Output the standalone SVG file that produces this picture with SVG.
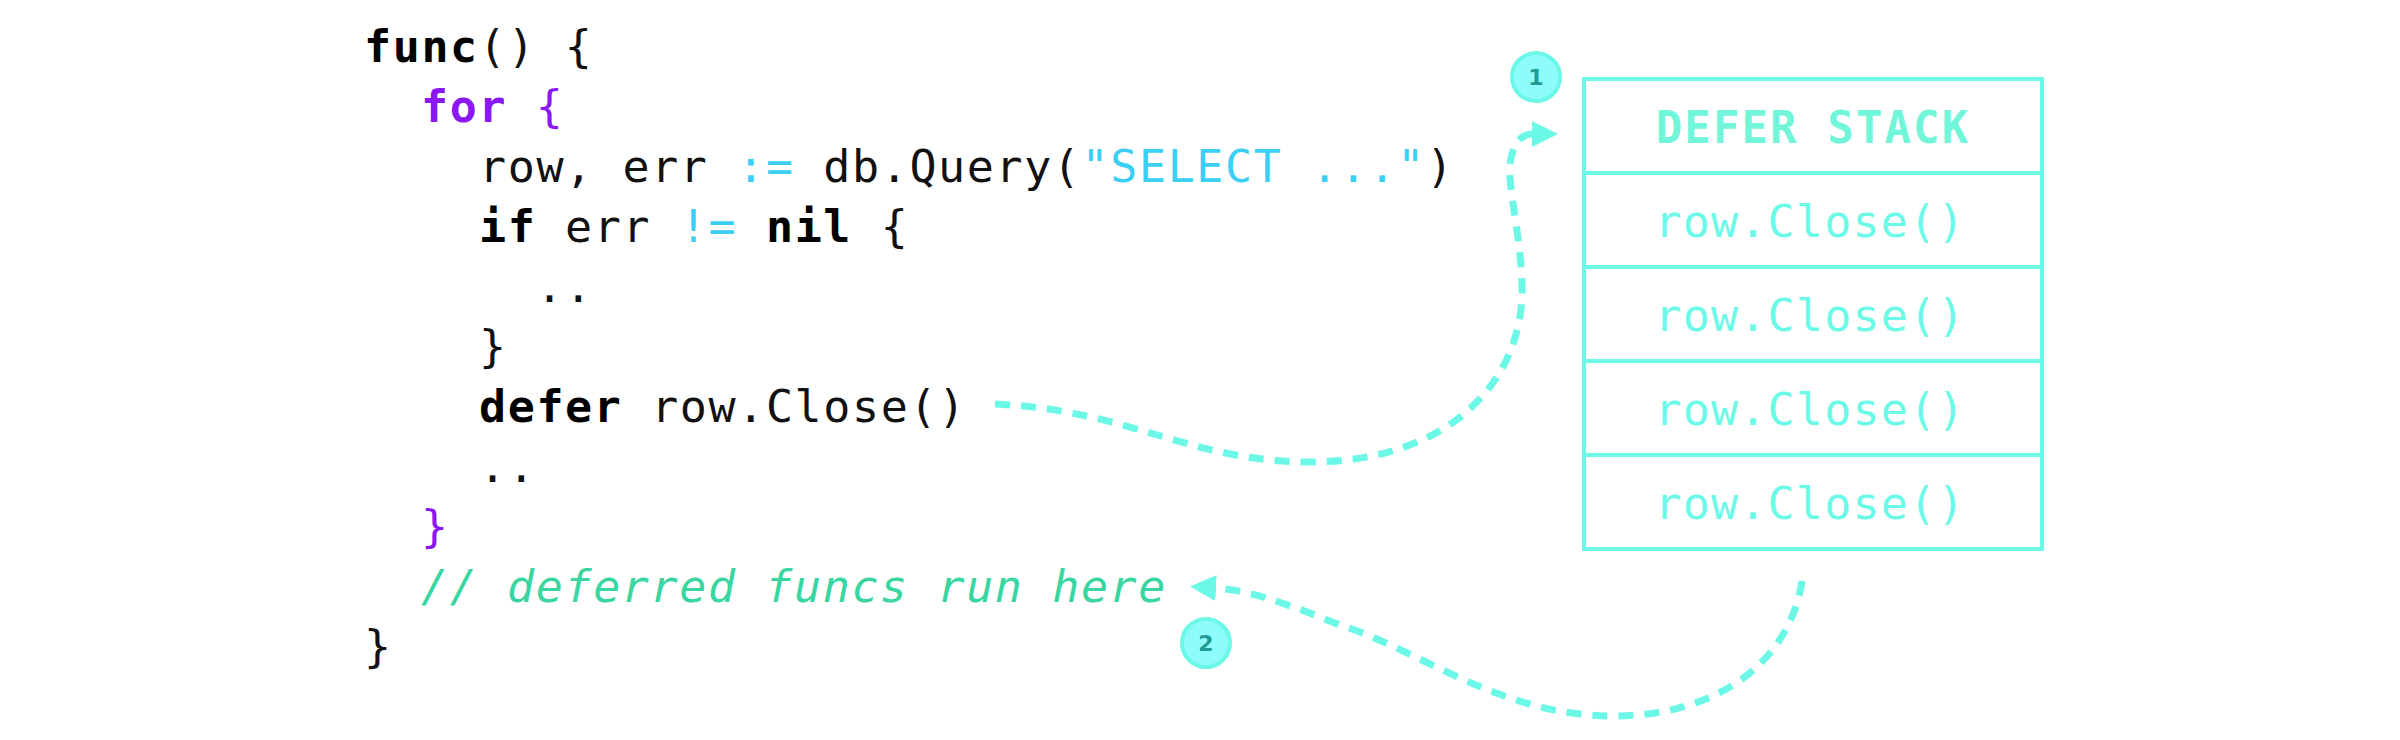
<svg xmlns="http://www.w3.org/2000/svg" width="2400" height="740" viewBox="0 0 2400 740">
<style>
.code{font-family:"DejaVu Sans Mono","Liberation Mono",monospace;font-size:45px;letter-spacing:1.6px;fill:#111111;white-space:pre}
.kw{font-weight:bold;fill:#000000}
.pu{fill:#8a17f4}
.pub{fill:#8a17f4;font-weight:bold}
.op{fill:#3ccff5}
.cm{fill:#3ad6a2;font-style:italic}
.hdr{font-family:"DejaVu Sans Mono","Liberation Mono",monospace;font-size:44px;letter-spacing:2.1px;font-weight:bold;fill:#72f6d9;text-anchor:middle}
.item{font-family:"DejaVu Sans Mono","Liberation Mono",monospace;font-size:45px;letter-spacing:1.2px;fill:#6cfae8;text-anchor:middle;font-weight:300}
.cell{fill:none;stroke:#6cf8e6;stroke-width:4}
.conn{fill:none;stroke:#6cf8e6;stroke-width:7;stroke-dasharray:15 11}
.badge{fill:#8ffcfc;stroke:#6cf8e6;stroke-width:4}
.bnum{font-family:"DejaVu Sans","Noto Sans",sans-serif;font-size:22px;font-weight:bold;fill:#1f9b93;text-anchor:middle}
</style>
<defs>
<marker id="arrow" viewBox="0 0 26 26" refX="1" refY="13" markerWidth="26" markerHeight="26" markerUnits="userSpaceOnUse" orient="auto">
<path d="M0,0 L26,13 L0,26 Z" fill="#6cf8e6"/>
</marker>
</defs>
<rect width="2400" height="740" fill="#ffffff"/>
<g id="code">
<text class="code" x="364" y="62"><tspan class="kw">func</tspan>() {</text>
<text class="code" x="421" y="122"><tspan class="pub">for</tspan><tspan class="pu"> {</tspan></text>
<text class="code" x="479" y="182">row, err <tspan class="op">:=</tspan> db.Query(<tspan class="op">"SELECT ..."</tspan>)</text>
<text class="code" x="479" y="242"><tspan class="kw">if</tspan> err <tspan class="op">!=</tspan> <tspan class="kw">nil</tspan> {</text>
<text class="code" x="536" y="302">..</text>
<text class="code" x="479" y="362">}</text>
<text class="code" x="479" y="422"><tspan class="kw">defer</tspan> row.Close()</text>
<text class="code" x="479" y="482">..</text>
<text class="code pu" x="421" y="542">}</text>
<text class="code cm" x="421" y="602">// deferred funcs run here</text>
<text class="code" x="364" y="662">}</text>
</g>
<g id="defer-stack">
<rect class="cell" x="1584" y="79" width="458" height="94"/>
<rect class="cell" x="1584" y="173" width="458" height="94"/>
<rect class="cell" x="1584" y="267" width="458" height="94"/>
<rect class="cell" x="1584" y="361" width="458" height="94"/>
<rect class="cell" x="1584" y="455" width="458" height="94"/>
<text class="hdr" x="1813" y="143">DEFER STACK</text>
<text class="item" x="1810" y="237">row.Close()</text>
<text class="item" x="1810" y="331">row.Close()</text>
<text class="item" x="1810" y="425">row.Close()</text>
<text class="item" x="1810" y="519">row.Close()</text>
</g>
<g id="connectors">
<path class="conn" marker-end="url(#arrow)" d="M 995 404 C 1130 410, 1190 462, 1310 462 C 1450 462, 1525 380, 1522 284 C 1520 230, 1508 190, 1510 165 C 1512 145, 1520 134, 1533 134"/>
<path class="conn" marker-end="url(#arrow)" d="M 1802 581 C 1790 660, 1720 716, 1613 716 C 1500 716, 1420 650, 1340 625 C 1290 605, 1250 590, 1215 588"/>
</g>
<g id="badge-1">
<circle class="badge" cx="1536" cy="77" r="24"/>
<text class="bnum" x="1536" y="85">1</text>
</g>
<g id="badge-2">
<circle class="badge" cx="1206" cy="643" r="24"/>
<text class="bnum" x="1206" y="651">2</text>
</g>
</svg>
